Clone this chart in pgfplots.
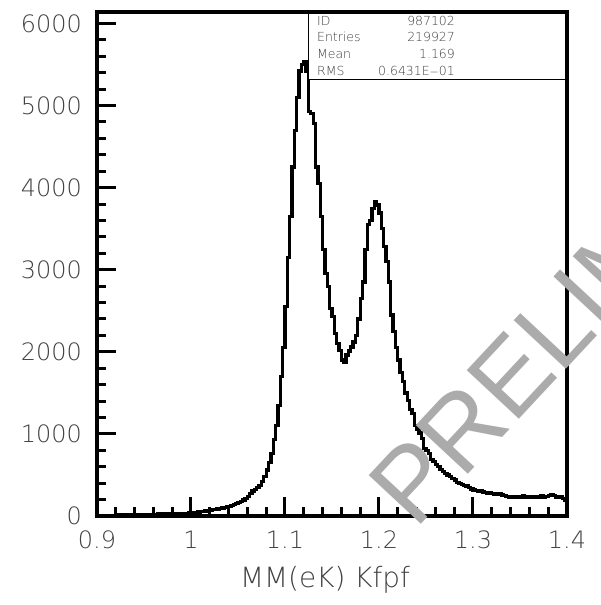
\documentclass[border=0pt]{standalone}
\usepackage{fontspec}
\setmainfont{DejaVu Sans ExtraLight}
\newfontfamily\wmfont{Liberation Sans}
\usepackage{pgfplots}
\pgfplotsset{compat=1.18}
\definecolor{txt}{gray}{0.25}
\definecolor{wm}{gray}{0.67}
\pgfplotstableread{
x y
0.9000 4
0.9025 6
0.9050 5
0.9075 7
0.9100 8
0.9125 6
0.9150 9
0.9175 10
0.9200 8
0.9225 11
0.9250 12
0.9275 10
0.9300 13
0.9325 14
0.9350 12
0.9375 15
0.9400 16
0.9425 14
0.9450 17
0.9475 18
0.9500 17
0.9525 19
0.9550 20
0.9575 19
0.9600 22
0.9625 21
0.9650 23
0.9675 24
0.9700 22
0.9725 25
0.9750 26
0.9775 25
0.9800 28
0.9825 27
0.9850 29
0.9875 31
0.9900 30
0.9925 33
0.9950 34
0.9975 36
1.0000 38
1.0025 42
1.0050 45
1.0075 48
1.0100 52
1.0125 58
1.0150 62
1.0175 70
1.0200 68
1.0225 75
1.0250 80
1.0275 86
1.0300 90
1.0325 96
1.0350 102
1.0375 110
1.0400 118
1.0425 128
1.0450 138
1.0475 150
1.0500 165
1.0525 180
1.0550 196
1.0575 215
1.0600 240
1.0625 270
1.0650 305
1.0675 320
1.0700 350
1.0725 375
1.0750 420
1.0775 480
1.0800 560
1.0825 650
1.0850 760
1.0875 930
1.0900 1100
1.0925 1350
1.0950 1700
1.0975 2050
1.1000 2550
1.1025 3150
1.1050 3650
1.1075 4250
1.1100 4700
1.1125 5100
1.1150 5420
1.1175 5500
1.1200 5530
1.1225 5420
1.1250 4930
1.1275 4900
1.1300 4780
1.1325 4250
1.1350 4050
1.1375 3650
1.1400 3250
1.1425 2950
1.1450 2800
1.1475 2530
1.1500 2430
1.1525 2220
1.1550 2100
1.1575 2020
1.1600 1900
1.1625 1870
1.1650 1960
1.1675 2010
1.1700 2060
1.1725 2120
1.1750 2200
1.1775 2400
1.1800 2650
1.1825 2850
1.1850 3250
1.1875 3550
1.1900 3600
1.1925 3750
1.1950 3830
1.1975 3790
1.2000 3690
1.2025 3500
1.2050 3280
1.2075 3100
1.2100 2850
1.2125 2450
1.2150 2250
1.2175 2050
1.2200 1900
1.2225 1750
1.2250 1640
1.2275 1500
1.2300 1410
1.2325 1300
1.2350 1250
1.2375 1100
1.2400 1060
1.2425 1010
1.2450 940
1.2475 820
1.2500 800
1.2525 760
1.2550 690
1.2575 660
1.2600 630
1.2625 600
1.2650 570
1.2675 540
1.2700 520
1.2725 500
1.2750 485
1.2775 460
1.2800 440
1.2825 410
1.2850 400
1.2875 385
1.2900 375
1.2925 365
1.2950 350
1.2975 330
1.3000 318
1.3025 310
1.3050 300
1.3075 305
1.3100 292
1.3125 288
1.3150 280
1.3175 285
1.3200 272
1.3225 268
1.3250 265
1.3275 270
1.3300 255
1.3325 250
1.3350 240
1.3375 232
1.3400 238
1.3425 230
1.3450 235
1.3475 228
1.3500 232
1.3525 245
1.3550 230
1.3575 236
1.3600 228
1.3625 240
1.3650 226
1.3675 238
1.3700 232
1.3725 245
1.3750 230
1.3775 236
1.3800 250
1.3825 258
1.3850 248
1.3875 232
1.3900 225
1.3925 240
1.3950 215
1.3975 185
1.4000 185
}\histdata
\begin{document}
\begin{tikzpicture}
\path[use as bounding box] (-97bp,-89bp) rectangle (504bp,516bp);
\begin{axis}[
  at={(0,0)}, anchor=south west,
  width=470bp, height=504bp, scale only axis,
  xmin=0.9, xmax=1.4, ymin=0, ymax=6140,
  xtick={0.9,1,1.1,1.2,1.3,1.4},
  xticklabels={0.9,1,1.1,1.2,1.3,1.4},
  ytick={0,1000,2000,3000,4000,5000,6000},
  yticklabels={0,1000,2000,3000,4000,5000,6000},
  minor x tick num=4, minor y tick num=4,
  xtick pos=left, ytick pos=left,
  tick align=inside,
  major tick length=19bp, minor tick length=9bp,
  every tick/.style={black, line width=3bp},
  axis line style={black, line width=3.3bp},
  /pgf/number format/assume math mode=true,
  xticklabel style={font=\fontsize{24}{24}\selectfont, text=txt, anchor=north, inner sep=0pt, yshift=-15bp},
  yticklabel style={font=\fontsize{24}{24}\selectfont, text=txt, anchor=east, inner sep=0pt, xshift=-15bp},
  scaled ticks=false,
]
\addplot[const plot, black, line width=3.3bp, line join=miter] table[x=x, y=y] {\histdata};
\end{axis}
% statistics box
\fill[white] (211.6bp,436bp) rectangle (468.3bp,502.3bp);
\draw[black, line width=1bp] (211bp,503bp) -- (211bp,436bp) -- (469bp,436bp);
\begin{scope}[every node/.style={font=\fontsize{12.5}{12.5}\selectfont, text=txt, inner sep=0pt}]
\node[anchor=base west] at (220bp,490bp) {ID};
\node[anchor=base west] at (220bp,474bp) {Entries};
\node[anchor=base west] at (220bp,457bp) {Mean};
\node[anchor=base west] at (220bp,440bp) {RMS};
\node[anchor=base east] at (358bp,490bp) {987102};
\node[anchor=base east] at (358bp,474bp) {219927};
\node[anchor=base east] at (358bp,457bp) {1.169};
\node[anchor=base east] at (358bp,440bp) {0.6431E$-$01};
\end{scope}
% x label
\node[font=\fontsize{28}{28}\selectfont, text=txt, inner sep=0pt] at (228bp,-64bp) {MM(eK) Kfpf};
% watermark
\node[rotate=47, anchor=base west, text=wm, inner sep=0pt, font=\wmfont\fontsize{104}{104}\selectfont] at (318bp,-15bp) {PRELIMINARY};
\end{tikzpicture}
\end{document}
